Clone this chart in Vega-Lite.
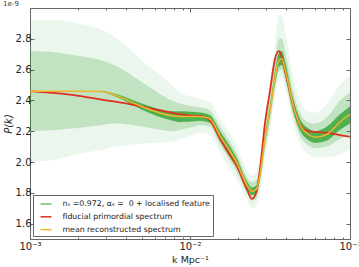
{
 "$schema": "https://vega.github.io/schema/vega-lite/v6.json",
 "width": 320, "height": 231,
 "autosize": {"type": "none"},
 "padding": {"left": 30, "top": 8, "right": 9, "bottom": 28},
 "title": {"text": "1e-9", "anchor": "start", "fontSize": 7, "fontWeight": "normal", "font": "DejaVu Sans", "color": "#333", "offset": 1},
 "config": {
  "view": {"stroke": "#666", "strokeWidth": 1},
  "font": "DejaVu Sans",
  "axis": {"domain": false, "grid": false, "tickColor": "#666", "labelColor": "#222", "titleColor": "#222", "labelFont": "DejaVu Sans", "titleFont": "DejaVu Sans", "titleFontWeight": "normal", "labelFontSize": 10, "titleFontSize": 9.5},
  "legend": {"orient": "bottom-left", "offset": 3, "strokeColor": "#666", "fillColor": "white", "padding": 2.5, "cornerRadius": 0, "labelFontSize": 7.8, "labelColor": "#222", "labelFont": "DejaVu Sans", "symbolType": "stroke", "symbolSize": 121, "symbolStrokeWidth": 1.5, "symbolOffset": 4, "rowPadding": 1.8, "labelLimit": 400, "labelOffset": 10}
 },
 "datasets": {
  "band": [
   {"k":0.001,"o_lo":2.00,"o_hi":2.92,"m_lo":2.20,"m_hi":2.72,"i_lo":2.46,"i_hi":2.46},
   {"k":0.0015,"o_lo":2.02,"o_hi":2.92,"m_lo":2.21,"m_hi":2.71,"i_lo":2.46,"i_hi":2.46},
   {"k":0.002,"o_lo":2.05,"o_hi":2.90,"m_lo":2.22,"m_hi":2.69,"i_lo":2.46,"i_hi":2.46},
   {"k":0.0028,"o_lo":2.08,"o_hi":2.86,"m_lo":2.24,"m_hi":2.66,"i_lo":2.455,"i_hi":2.46},
   {"k":0.0035,"o_lo":2.10,"o_hi":2.80,"m_lo":2.25,"m_hi":2.62,"i_lo":2.42,"i_hi":2.44},
   {"k":0.005,"o_lo":2.12,"o_hi":2.66,"m_lo":2.23,"m_hi":2.52,"i_lo":2.34,"i_hi":2.38},
   {"k":0.0077,"o_lo":2.13,"o_hi":2.50,"m_lo":2.20,"m_hi":2.40,"i_lo":2.27,"i_hi":2.33},
   {"k":0.0087,"o_lo":2.15,"o_hi":2.45,"m_lo":2.21,"m_hi":2.38,"i_lo":2.26,"i_hi":2.33},
   {"k":0.0107,"o_lo":2.18,"o_hi":2.42,"m_lo":2.23,"m_hi":2.36,"i_lo":2.265,"i_hi":2.325},
   {"k":0.0115,"o_lo":2.19,"o_hi":2.41,"m_lo":2.24,"m_hi":2.355,"i_lo":2.268,"i_hi":2.322},
   {"k":0.0133,"o_lo":2.18,"o_hi":2.39,"m_lo":2.23,"m_hi":2.335,"i_lo":2.255,"i_hi":2.305},
   {"k":0.0154,"o_lo":2.06,"o_hi":2.28,"m_lo":2.11,"m_hi":2.23,"i_lo":2.14,"i_hi":2.20},
   {"k":0.0178,"o_lo":1.96,"o_hi":2.18,"m_lo":2.01,"m_hi":2.13,"i_lo":2.04,"i_hi":2.10},
   {"k":0.0197,"o_lo":1.88,"o_hi":2.10,"m_lo":1.93,"m_hi":2.05,"i_lo":1.96,"i_hi":2.02},
   {"k":0.0227,"o_lo":1.75,"o_hi":1.95,"m_lo":1.80,"m_hi":1.90,"i_lo":1.825,"i_hi":1.875},
   {"k":0.0244,"o_lo":1.70,"o_hi":1.91,"m_lo":1.75,"m_hi":1.87,"i_lo":1.785,"i_hi":1.835},
   {"k":0.0259,"o_lo":1.71,"o_hi":1.93,"m_lo":1.76,"m_hi":1.88,"i_lo":1.795,"i_hi":1.845},
   {"k":0.0274,"o_lo":1.80,"o_hi":2.04,"m_lo":1.86,"m_hi":1.98,"i_lo":1.89,"i_hi":1.95},
   {"k":0.0294,"o_lo":2.02,"o_hi":2.30,"m_lo":2.08,"m_hi":2.22,"i_lo":2.12,"i_hi":2.18},
   {"k":0.0316,"o_lo":2.20,"o_hi":2.50,"m_lo":2.26,"m_hi":2.42,"i_lo":2.30,"i_hi":2.37},
   {"k":0.034,"o_lo":2.42,"o_hi":2.78,"m_lo":2.48,"m_hi":2.66,"i_lo":2.51,"i_hi":2.59},
   {"k":0.036,"o_lo":2.54,"o_hi":2.96,"m_lo":2.59,"m_hi":2.80,"i_lo":2.62,"i_hi":2.71},
   {"k":0.0375,"o_lo":2.55,"o_hi":2.95,"m_lo":2.60,"m_hi":2.80,"i_lo":2.63,"i_hi":2.72},
   {"k":0.0393,"o_lo":2.48,"o_hi":2.85,"m_lo":2.53,"m_hi":2.72,"i_lo":2.56,"i_hi":2.65},
   {"k":0.0441,"o_lo":2.25,"o_hi":2.55,"m_lo":2.30,"m_hi":2.46,"i_lo":2.33,"i_hi":2.41},
   {"k":0.0487,"o_lo":2.12,"o_hi":2.40,"m_lo":2.17,"m_hi":2.32,"i_lo":2.205,"i_hi":2.28},
   {"k":0.0546,"o_lo":2.05,"o_hi":2.33,"m_lo":2.11,"m_hi":2.26,"i_lo":2.145,"i_hi":2.22},
   {"k":0.0604,"o_lo":2.03,"o_hi":2.32,"m_lo":2.09,"m_hi":2.25,"i_lo":2.125,"i_hi":2.20},
   {"k":0.0718,"o_lo":2.03,"o_hi":2.38,"m_lo":2.10,"m_hi":2.29,"i_lo":2.14,"i_hi":2.23},
   {"k":0.0866,"o_lo":2.05,"o_hi":2.50,"m_lo":2.15,"m_hi":2.40,"i_lo":2.21,"i_hi":2.31},
   {"k":0.1,"o_lo":2.08,"o_hi":2.56,"m_lo":2.18,"m_hi":2.45,"i_lo":2.25,"i_hi":2.36}
  ],
  "lines": [
   {"k":0.001,"P":2.46,"series":"fiducial primordial spectrum"},
   {"k":0.0015,"P":2.445,"series":"fiducial primordial spectrum"},
   {"k":0.002,"P":2.43,"series":"fiducial primordial spectrum"},
   {"k":0.0028,"P":2.405,"series":"fiducial primordial spectrum"},
   {"k":0.0035,"P":2.39,"series":"fiducial primordial spectrum"},
   {"k":0.005,"P":2.36,"series":"fiducial primordial spectrum"},
   {"k":0.0077,"P":2.32,"series":"fiducial primordial spectrum"},
   {"k":0.0087,"P":2.31,"series":"fiducial primordial spectrum"},
   {"k":0.0107,"P":2.30,"series":"fiducial primordial spectrum"},
   {"k":0.0115,"P":2.30,"series":"fiducial primordial spectrum"},
   {"k":0.0133,"P":2.27,"series":"fiducial primordial spectrum"},
   {"k":0.0154,"P":2.15,"series":"fiducial primordial spectrum"},
   {"k":0.0178,"P":2.04,"series":"fiducial primordial spectrum"},
   {"k":0.0197,"P":1.97,"series":"fiducial primordial spectrum"},
   {"k":0.0227,"P":1.82,"series":"fiducial primordial spectrum"},
   {"k":0.0244,"P":1.76,"series":"fiducial primordial spectrum"},
   {"k":0.0259,"P":1.80,"series":"fiducial primordial spectrum"},
   {"k":0.0274,"P":1.955,"series":"fiducial primordial spectrum"},
   {"k":0.0294,"P":2.25,"series":"fiducial primordial spectrum"},
   {"k":0.0316,"P":2.46,"series":"fiducial primordial spectrum"},
   {"k":0.034,"P":2.67,"series":"fiducial primordial spectrum"},
   {"k":0.036,"P":2.72,"series":"fiducial primordial spectrum"},
   {"k":0.0375,"P":2.68,"series":"fiducial primordial spectrum"},
   {"k":0.0393,"P":2.59,"series":"fiducial primordial spectrum"},
   {"k":0.0441,"P":2.37,"series":"fiducial primordial spectrum"},
   {"k":0.0487,"P":2.24,"series":"fiducial primordial spectrum"},
   {"k":0.0546,"P":2.20,"series":"fiducial primordial spectrum"},
   {"k":0.0604,"P":2.195,"series":"fiducial primordial spectrum"},
   {"k":0.0718,"P":2.19,"series":"fiducial primordial spectrum"},
   {"k":0.0866,"P":2.175,"series":"fiducial primordial spectrum"},
   {"k":0.1,"P":2.165,"series":"fiducial primordial spectrum"},
   {"k":0.001,"P":2.46,"series":"mean reconstructed spectrum"},
   {"k":0.0015,"P":2.46,"series":"mean reconstructed spectrum"},
   {"k":0.002,"P":2.46,"series":"mean reconstructed spectrum"},
   {"k":0.0028,"P":2.457,"series":"mean reconstructed spectrum"},
   {"k":0.0035,"P":2.43,"series":"mean reconstructed spectrum"},
   {"k":0.005,"P":2.36,"series":"mean reconstructed spectrum"},
   {"k":0.0077,"P":2.30,"series":"mean reconstructed spectrum"},
   {"k":0.0087,"P":2.295,"series":"mean reconstructed spectrum"},
   {"k":0.0107,"P":2.295,"series":"mean reconstructed spectrum"},
   {"k":0.0115,"P":2.295,"series":"mean reconstructed spectrum"},
   {"k":0.0133,"P":2.28,"series":"mean reconstructed spectrum"},
   {"k":0.0154,"P":2.17,"series":"mean reconstructed spectrum"},
   {"k":0.0178,"P":2.07,"series":"mean reconstructed spectrum"},
   {"k":0.0197,"P":1.99,"series":"mean reconstructed spectrum"},
   {"k":0.0227,"P":1.85,"series":"mean reconstructed spectrum"},
   {"k":0.0244,"P":1.81,"series":"mean reconstructed spectrum"},
   {"k":0.0259,"P":1.82,"series":"mean reconstructed spectrum"},
   {"k":0.0274,"P":1.92,"series":"mean reconstructed spectrum"},
   {"k":0.0294,"P":2.15,"series":"mean reconstructed spectrum"},
   {"k":0.0316,"P":2.33,"series":"mean reconstructed spectrum"},
   {"k":0.034,"P":2.55,"series":"mean reconstructed spectrum"},
   {"k":0.036,"P":2.66,"series":"mean reconstructed spectrum"},
   {"k":0.0375,"P":2.67,"series":"mean reconstructed spectrum"},
   {"k":0.0393,"P":2.60,"series":"mean reconstructed spectrum"},
   {"k":0.0441,"P":2.37,"series":"mean reconstructed spectrum"},
   {"k":0.0487,"P":2.24,"series":"mean reconstructed spectrum"},
   {"k":0.0546,"P":2.18,"series":"mean reconstructed spectrum"},
   {"k":0.0604,"P":2.16,"series":"mean reconstructed spectrum"},
   {"k":0.0718,"P":2.18,"series":"mean reconstructed spectrum"},
   {"k":0.0866,"P":2.26,"series":"mean reconstructed spectrum"},
   {"k":0.1,"P":2.31,"series":"mean reconstructed spectrum"}
  ]
 },
 "layer": [
  {
   "data": {"name": "band"},
   "mark": {"type": "area", "color": "#3cb043", "opacity": 0.1, "interpolate": "monotone"},
   "encoding": {
    "x": {"field": "k", "type": "quantitative", "scale": {"type": "log", "domain": [0.001, 0.1]}, "title": "k Mpc⁻¹",
      "axis": {"orient": "bottom", "values": [0.001,0.002,0.003,0.004,0.005,0.006,0.007,0.008,0.009,0.01,0.02,0.03,0.04,0.05,0.06,0.07,0.08,0.09,0.1],
        "labelExpr": "datum.value == 0.001 ? '10⁻³' : datum.value == 0.01 ? '10⁻²' : datum.value == 0.1 ? '10⁻¹' : ''",
        "tickSize": {"condition": {"test": "datum.value == 0.001 || datum.value == 0.01 || datum.value == 0.1", "value": -4}, "value": -2},
        "labelPadding": 6, "titlePadding": 1, "labelFlush": false, "labelOverlap": false}},
    "y": {"field": "o_lo", "type": "quantitative", "scale": {"domain": [1.5, 3.0], "nice": false, "zero": false}, "title": "P(k)",
      "axis": {"orient": "left", "values": [1.6,1.8,2.0,2.2,2.4,2.6,2.8], "format": ".1f", "tickSize": -4, "labelPadding": 3, "titleFontStyle": "italic", "titleFontSize": 10, "titlePadding": 2}},
    "y2": {"field": "o_hi"}
   }
  },
  {
   "data": {"name": "band"},
   "mark": {"type": "area", "color": "#2ca02c", "opacity": 0.22, "interpolate": "monotone"},
   "encoding": {
    "x": {"field": "k", "type": "quantitative", "scale": {"type": "log", "domain": [0.001, 0.1]}, "title": null,
      "axis": {"orient": "top", "values": [0.001,0.002,0.003,0.004,0.005,0.006,0.007,0.008,0.009,0.01,0.02,0.03,0.04,0.05,0.06,0.07,0.08,0.09,0.1], "labels": false,
        "tickSize": {"condition": {"test": "datum.value == 0.001 || datum.value == 0.01 || datum.value == 0.1", "value": -4}, "value": -2}}},
    "y": {"field": "m_lo", "type": "quantitative", "title": null,
      "axis": {"orient": "right", "values": [1.6,1.8,2.0,2.2,2.4,2.6,2.8], "labels": false, "tickSize": -4}},
    "y2": {"field": "m_hi"}
   }
  },
  {
   "data": {"name": "band"},
   "mark": {"type": "area", "color": "#1e9a1e", "opacity": 0.7, "interpolate": "monotone"},
   "encoding": {
    "x": {"field": "k", "type": "quantitative", "axis": null},
    "y": {"field": "i_lo", "type": "quantitative", "axis": null},
    "y2": {"field": "i_hi"}
   }
  },
  {
   "data": {"name": "lines"},
   "transform": [{"filter": "datum.series == 'fiducial primordial spectrum'"}],
   "mark": {"type": "line", "strokeWidth": 1.8, "interpolate": "monotone"},
   "encoding": {
    "x": {"field": "k", "type": "quantitative", "axis": null},
    "y": {"field": "P", "type": "quantitative", "axis": null},
    "color": {"field": "series", "type": "nominal",
      "scale": {"domain": ["nₛ =0.972, αₛ = \u00a00 + localised feature", "fiducial primordial spectrum", "mean reconstructed spectrum"], "range": ["#6abf6a", "#e0301e", "#f2b42c"]},
      "legend": {"title": null}}
   }
  },
  {
   "data": {"name": "lines"},
   "transform": [{"filter": "datum.series == 'mean reconstructed spectrum'"}],
   "mark": {"type": "line", "strokeWidth": 1.5, "interpolate": "monotone"},
   "encoding": {
    "x": {"field": "k", "type": "quantitative", "axis": null},
    "y": {"field": "P", "type": "quantitative", "axis": null},
    "color": {"field": "series", "type": "nominal", "legend": {"title": null}}
   }
  }
 ]
}
